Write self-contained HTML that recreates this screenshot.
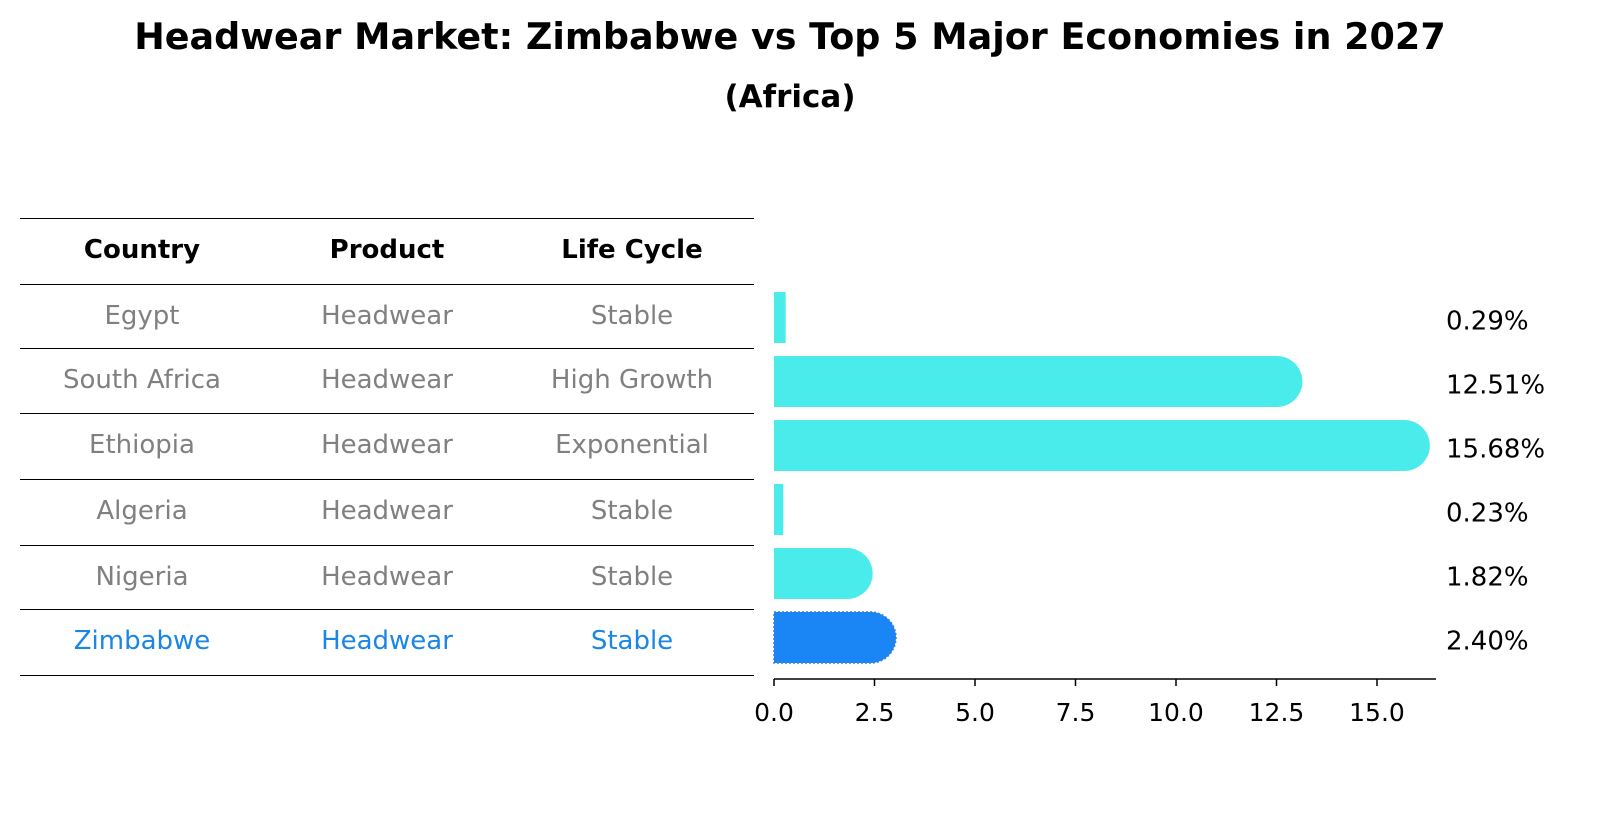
<!DOCTYPE html>
<html><head><meta charset="utf-8"><style>
body{margin:0;background:#fff;font-family:"Liberation Sans","DejaVu Sans",sans-serif;}
svg text{font-family:"DejaVu Sans","Liberation Sans",sans-serif;}
</style></head><body>
<svg id="c" width="1604" height="823" viewBox="0 0 1604 823" xmlns="http://www.w3.org/2000/svg">
<text x="790" y="49" text-anchor="middle" font-size="36.5" font-weight="bold">Headwear Market: Zimbabwe vs Top 5 Major Economies in 2027</text>
<text x="790" y="107" text-anchor="middle" font-size="31" font-weight="bold">(Africa)</text>
<g id="tbl"></g>
<g id="bars"></g>
<g id="xaxis"></g>
</svg>
<script>
const countries=["Egypt","South Africa","Ethiopia","Algeria","Nigeria","Zimbabwe"];
const products=["Headwear","Headwear","Headwear","Headwear","Headwear","Headwear"];
const lifeCycles=["Stable","High Growth","Exponential","Stable","Stable","Stable"];
const values=[0.29,12.51,15.68,0.23,1.82,2.40];
const xTicks=[0,2.5,5,7.5,10,12.5,15];
const NS="http://www.w3.org/2000/svg";
function mk(t,a,p){const e=document.createElementNS(NS,t);for(const k in a)e.setAttribute(k,a[k]);p.appendChild(e);return e;}
const x0=774,pxU=40.2;
function X(v){return x0+v*pxU;}
const rowTop=[284,348,413,479,545,609];
const barTop=[292,356,420,484,548,612];
const bh=51;
const tbl=document.getElementById('tbl');
const lines=[218,284,348,413,479,545,609,675];
lines.forEach(y=>{const l=mk('line',{x1:20,x2:754,y1:y+0.5,y2:y+0.5,stroke:'#000','stroke-width':1},tbl);

});
const cx=[142,387,632];
["Country","Product","Life Cycle"].forEach((h,i)=>{const t=mk('text',{x:cx[i],y:258,'text-anchor':'middle','font-size':26,'font-weight':'bold'},tbl);t.textContent=h;

});
countries.forEach((c,r)=>{const col=r===countries.length-1?'#1a86e6':'#808080';
[c,products[r],lifeCycles[r]].forEach((s,i)=>{const t=mk('text',{x:cx[i],y:rowTop[r]+40,'text-anchor':'middle','font-size':26,fill:col},tbl);t.textContent=s;

});});
const bars=document.getElementById('bars');
values.forEach((v,i)=>{const hi=i===values.length-1;const fill=hi?'#1a86f5':'#4aeceb';
const w=X(v)-x0;const y=barTop[i];let d;
if(v>1){const r=bh/2;d=`M${x0},${y}H${x0+w}A${r},${r} 0 0 1 ${x0+w},${y+bh}H${x0}Z`;}
else d=`M${x0},${y}H${x0+w}V${y+bh}H${x0}Z`;
const p=mk('path',{d:d,fill:fill},bars);
if(hi){p.setAttribute('stroke','#3a7fd8');p.setAttribute('stroke-dasharray','2,2');p.setAttribute('stroke-width','1.5');}


const t=mk('text',{x:1446,y:y+bh/2+12,'font-size':26},bars);t.textContent=v.toFixed(2)+'%';

});
const ax=document.getElementById('xaxis');
mk('line',{x1:x0,x2:1436,y1:679,y2:679,stroke:'#000','stroke-width':1.5},ax);
xTicks.forEach(v=>{mk('line',{x1:X(v),x2:X(v),y1:679,y2:686,stroke:'#000','stroke-width':1.5},ax);
const t=mk('text',{x:X(v),y:721,'text-anchor':'middle','font-size':25},ax);t.textContent=v.toFixed(1);

});
</script>
</body></html>
